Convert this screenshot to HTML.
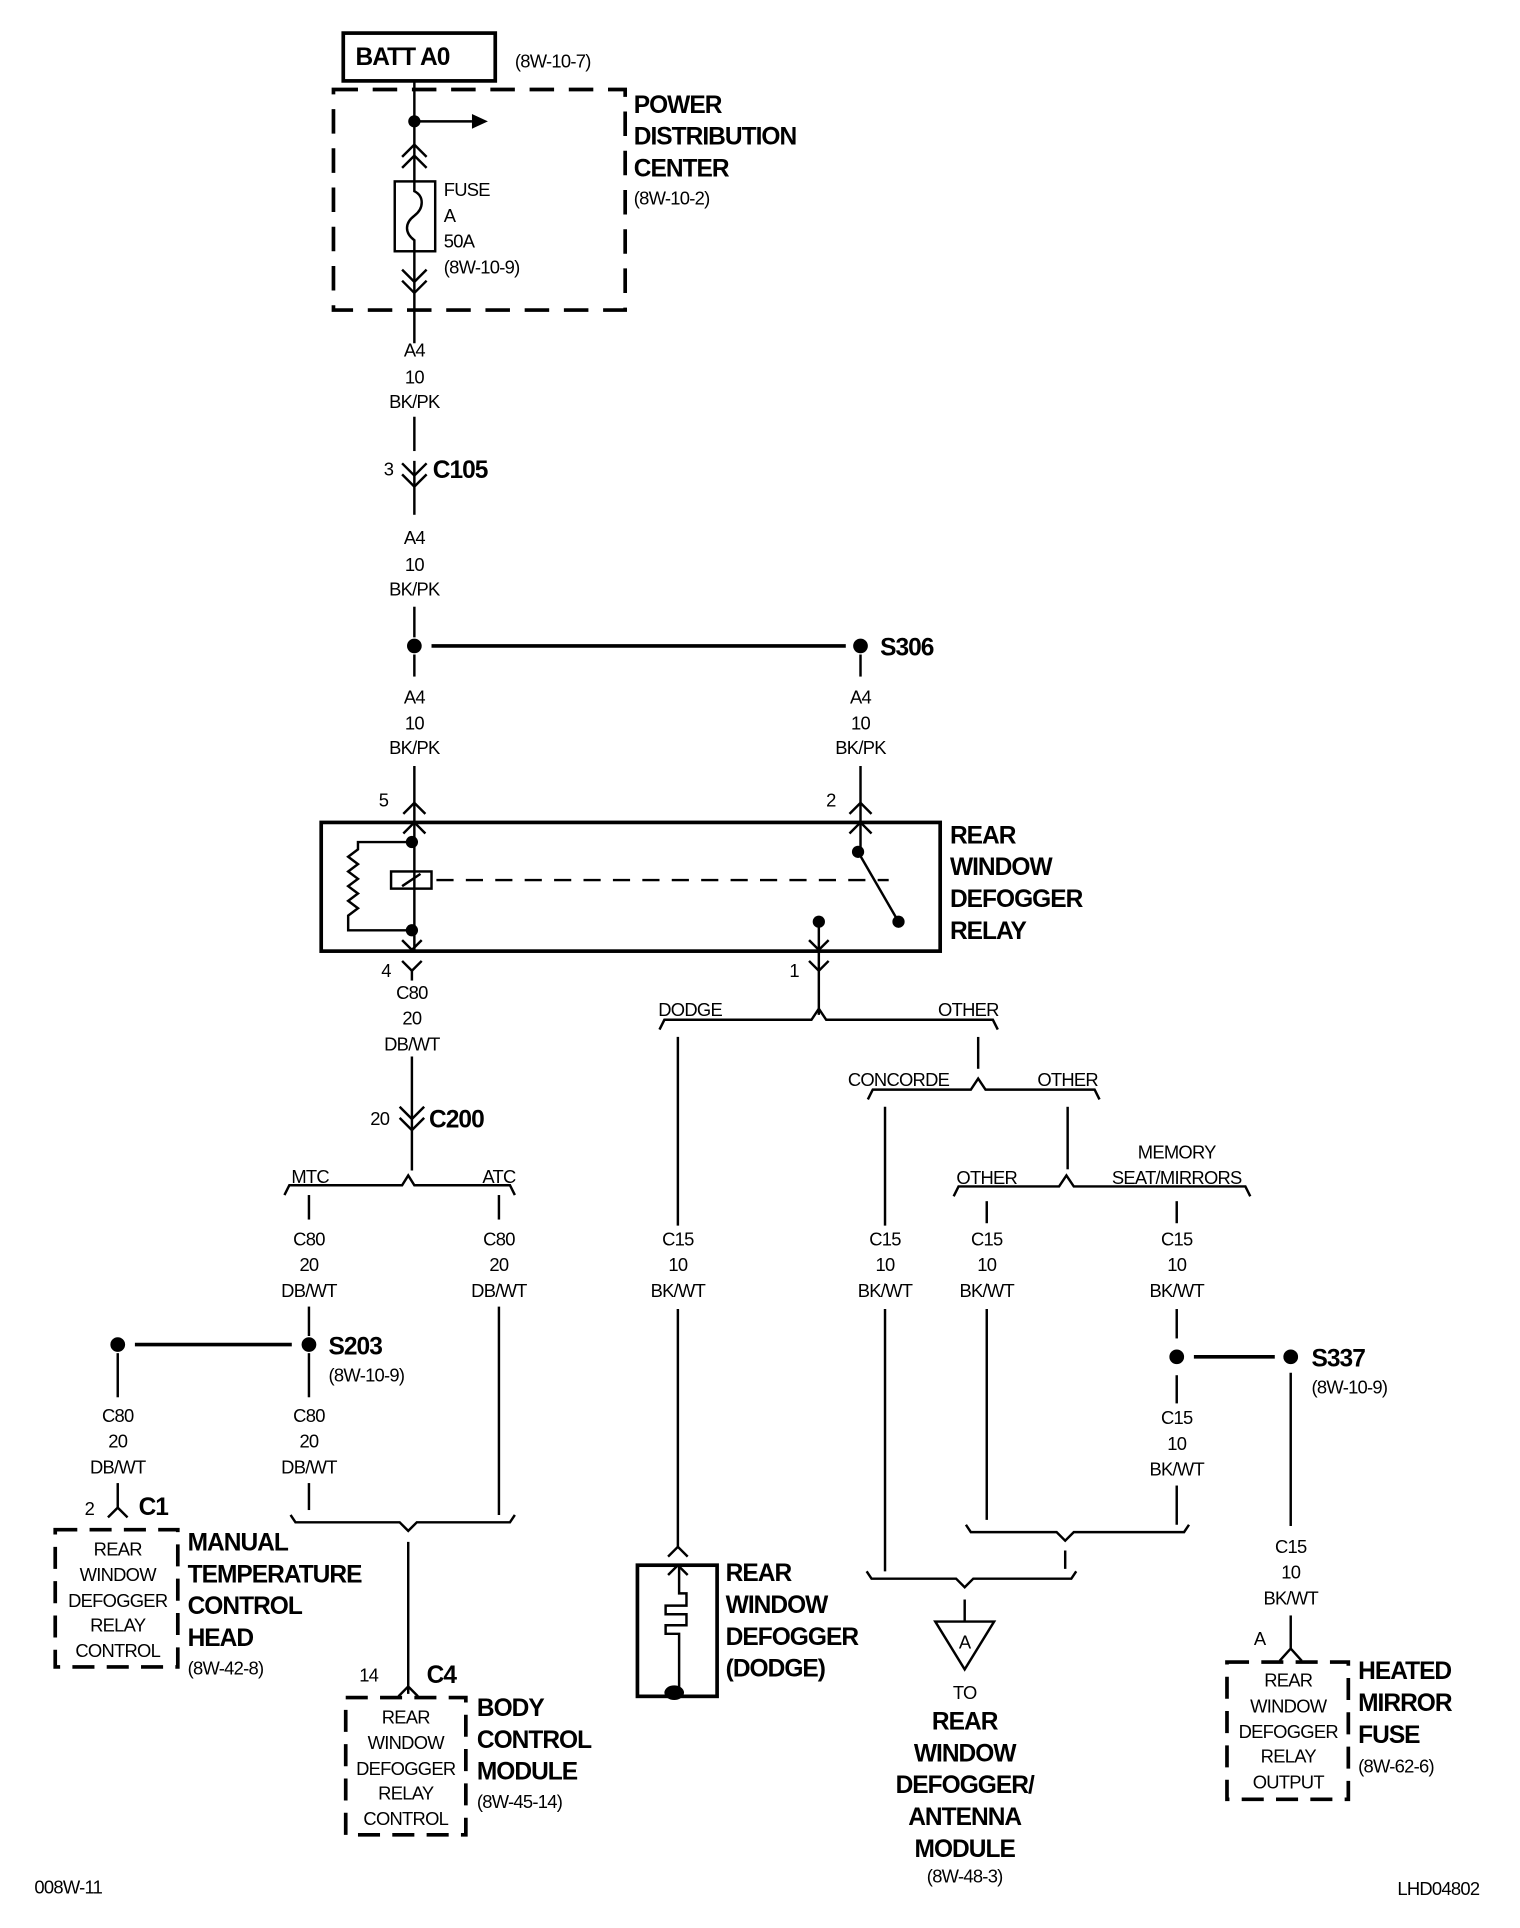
<!DOCTYPE html>
<html><head><meta charset="utf-8"><style>
html,body{margin:0;padding:0;background:#fff;}
svg{display:block}
text{font-family:"Liberation Sans",sans-serif;fill:#000;}
.r{font-size:15px;letter-spacing:-0.6px}
.b{font-size:20px;font-weight:bold;letter-spacing:-0.8px}
.m{text-anchor:middle}
</style></head><body>
<svg width="1520" height="1928" viewBox="0 0 1240 1573" xmlns="http://www.w3.org/2000/svg">
<g fill="none" stroke="#000" stroke-width="2">
<!-- BATT -->
<rect x="280" y="27" width="124" height="39" stroke-width="3"/>
<rect x="272" y="73" width="238" height="180" stroke-width="3" stroke-dasharray="20,12"/>
<line x1="338" y1="66" x2="338" y2="148"/>
<line x1="338" y1="99" x2="385" y2="99"/>
<line x1="338" y1="205" x2="338" y2="280"/>
<polyline points="328,128 338,118 348,128"/><polyline points="328,137 338,127 348,137"/>
<polyline points="328,220 338,230 348,220"/><polyline points="328,229 338,239 348,229"/>
<rect x="322" y="148" width="33" height="57"/>
<path d="M338,148 v8 c8,4 8,14 0,20 c-8,6 -8,14 0,20 v9"/>
<!-- main wire -->
<line x1="338" y1="340" x2="338" y2="368"/>
<polyline points="328,378 338,388 348,378"/><polyline points="328,387 338,397 348,387"/>
<line x1="338" y1="376" x2="338" y2="420"/>
<line x1="338" y1="495" x2="338" y2="520"/>
<line x1="338" y1="534" x2="338" y2="552"/>
<line x1="352" y1="527" x2="690" y2="527" stroke-width="3"/>
<line x1="702" y1="534" x2="702" y2="552"/>
<line x1="338" y1="625" x2="338" y2="776"/>
<line x1="702" y1="625" x2="702" y2="695"/>
<polyline points="329,664 338,655 347,664"/><polyline points="693,664 702,655 711,664"/>
<polyline points="329,680 338,671 347,680"/><polyline points="693,680 702,671 711,680"/>
<!-- relay -->
<rect x="262" y="671" width="505" height="105" stroke-width="3"/>
<path d="M336,687 H292 V693 l-8,6 8,6 -8,6 8,6 -8,6 8,6 -8,6 8,6 -8,6 V759 H336"/>
<rect x="319" y="711" width="33" height="14"/>
<line x1="328" y1="723" x2="343" y2="713"/>
<line x1="356" y1="718" x2="725" y2="718" stroke-dasharray="14,10"/>
<line x1="700" y1="695" x2="733" y2="752"/>
<line x1="668" y1="752" x2="668" y2="828"/>
<polyline points="660,767 668,775 676,767"/>
<polyline points="328,767 336,775 344,767"/>
<polyline points="328,784 336,792 344,784"/><polyline points="660,784 668,792 676,784"/>
<line x1="336" y1="792" x2="336" y2="800"/>
<!-- pin4 wire -->
<line x1="336" y1="862" x2="336" y2="955"/>
<polyline points="326,903 336,913 346,903"/><polyline points="326,912 336,922 346,912"/>
<path d="M232,975 l4,-8 H328 l5,-8 5,8 H416 l4,8"/>
<line x1="252" y1="975" x2="252" y2="995"/><line x1="407" y1="975" x2="407" y2="995"/>
<line x1="252" y1="1066" x2="252" y2="1090"/>
<line x1="110" y1="1097" x2="238" y2="1097" stroke-width="3"/>
<line x1="252" y1="1104" x2="252" y2="1140"/>
<line x1="96" y1="1104" x2="96" y2="1140"/>
<line x1="407" y1="1066" x2="407" y2="1236"/>
<line x1="252" y1="1210" x2="252" y2="1232"/>
<line x1="96" y1="1210" x2="96" y2="1230"/>
<polyline points="88,1238 96,1230 104,1238"/>
<rect x="45" y="1248" width="100" height="112" stroke-width="3" stroke-dasharray="18,10"/>
<path d="M237,1236 l4,6 H326 l7,7 7,-7 H416 l4,-6"/>
<line x1="333" y1="1258" x2="333" y2="1382"/>
<polyline points="325,1384 333,1376 341,1384"/>
<rect x="282" y="1385" width="98" height="112" stroke-width="3" stroke-dasharray="18,10"/>
<!-- right branch -->
<path d="M538,840 l4,-8 H662 l6,-9 6,9 H810 l4,8"/>
<line x1="553" y1="846" x2="553" y2="1000"/>
<line x1="798" y1="846" x2="798" y2="872"/>
<path d="M708,897 l4,-8 H792 l6,-9 6,9 H893 l4,8"/>
<line x1="722" y1="903" x2="722" y2="1000"/>
<line x1="871" y1="903" x2="871" y2="954"/>
<path d="M778,976 l4,-8 H864 l6,-9 6,9 H1016 l4,8"/>
<line x1="805" y1="980" x2="805" y2="998"/><line x1="960" y1="980" x2="960" y2="998"/>
<line x1="553" y1="1068" x2="553" y2="1262"/>
<polyline points="545,1270 553,1262 561,1270"/>
<rect x="520" y="1277" width="65" height="107" stroke-width="3"/>
<polyline points="545,1285 553,1277 561,1285"/>
<path d="M554,1277 V1300 H560 V1310 H543 V1317 H560 V1326 H543 V1333 H554 V1384"/>
<line x1="722" y1="1068" x2="722" y2="1282"/>
<line x1="805" y1="1068" x2="805" y2="1240"/>
<line x1="960" y1="1068" x2="960" y2="1092"/>
<line x1="974" y1="1107" x2="1040" y2="1107" stroke-width="3"/>
<line x1="960" y1="1122" x2="960" y2="1145"/>
<line x1="960" y1="1212" x2="960" y2="1244"/>
<line x1="1053" y1="1120" x2="1053" y2="1245"/>
<path d="M788,1244 l4,6 H862 l7,7 7,-7 H966 l4,-6"/>
<line x1="869" y1="1265" x2="869" y2="1280"/>
<path d="M707,1282 l4,6 H780 l7,7 7,-7 H874 l4,-6"/>
<line x1="787" y1="1305" x2="787" y2="1323"/>
<polygon points="763,1323 811,1323 787,1362"/>
<line x1="1053" y1="1318" x2="1053" y2="1345"/>
<polyline points="1044,1355 1053,1345 1062,1355"/>
<rect x="1001" y="1356" width="99" height="112" stroke-width="3" stroke-dasharray="18,10"/>
</g>
<g fill="#000">
<polygon points="385,93 398,99 385,105"/>
<circle cx="338" cy="99" r="5"/>
<circle cx="338" cy="527" r="6"/><circle cx="702" cy="527" r="6"/>
<circle cx="336" cy="687" r="5"/><circle cx="336" cy="759" r="5"/>
<circle cx="700" cy="695" r="5"/><circle cx="733" cy="752" r="5"/><circle cx="668" cy="752" r="5"/>
<circle cx="96" cy="1097" r="6"/><circle cx="252" cy="1097" r="6"/>
<circle cx="960" cy="1107" r="6"/><circle cx="1053" cy="1107" r="6"/>
<ellipse cx="550" cy="1381" rx="8" ry="6"/>
</g>
<text x="290" y="53" class="b">BATT A0</text>
<text x="420" y="55" class="r">(8W-10-7)</text>
<text x="517" y="92" class="b">POWER</text><text x="517" y="118" class="b">DISTRIBUTION</text><text x="517" y="144" class="b">CENTER</text>
<text x="517" y="167" class="r">(8W-10-2)</text>
<text x="362" y="160" class="r">FUSE</text><text x="362" y="181" class="r">A</text><text x="362" y="202" class="r">50A</text><text x="362" y="223" class="r">(8W-10-9)</text>
<g class="r m">
<text x="338" y="291">A4</text><text x="338" y="313">10</text><text x="338" y="333">BK/PK</text>
<text x="338" y="444">A4</text><text x="338" y="466">10</text><text x="338" y="486">BK/PK</text>
<text x="338" y="574">A4</text><text x="338" y="595">10</text><text x="338" y="615">BK/PK</text>
<text x="702" y="574">A4</text><text x="702" y="595">10</text><text x="702" y="615">BK/PK</text>
<text x="336" y="815">C80</text><text x="336" y="836">20</text><text x="336" y="857">DB/WT</text>
<text x="252" y="1016">C80</text><text x="252" y="1037">20</text><text x="252" y="1058">DB/WT</text>
<text x="407" y="1016">C80</text><text x="407" y="1037">20</text><text x="407" y="1058">DB/WT</text>
<text x="96" y="1160">C80</text><text x="96" y="1181">20</text><text x="96" y="1202">DB/WT</text>
<text x="252" y="1160">C80</text><text x="252" y="1181">20</text><text x="252" y="1202">DB/WT</text>
<text x="553" y="1016">C15</text><text x="553" y="1037">10</text><text x="553" y="1058">BK/WT</text>
<text x="722" y="1016">C15</text><text x="722" y="1037">10</text><text x="722" y="1058">BK/WT</text>
<text x="805" y="1016">C15</text><text x="805" y="1037">10</text><text x="805" y="1058">BK/WT</text>
<text x="960" y="1016">C15</text><text x="960" y="1037">10</text><text x="960" y="1058">BK/WT</text>
<text x="960" y="1162">C15</text><text x="960" y="1183">10</text><text x="960" y="1204">BK/WT</text>
<text x="1053" y="1267">C15</text><text x="1053" y="1288">10</text><text x="1053" y="1309">BK/WT</text>
<text x="96" y="1269">REAR</text><text x="96" y="1290">WINDOW</text><text x="96" y="1311">DEFOGGER</text><text x="96" y="1331">RELAY</text><text x="96" y="1352">CONTROL</text>
<text x="331" y="1406">REAR</text><text x="331" y="1427">WINDOW</text><text x="331" y="1448">DEFOGGER</text><text x="331" y="1468">RELAY</text><text x="331" y="1489">CONTROL</text>
<text x="1051" y="1376">REAR</text><text x="1051" y="1397">WINDOW</text><text x="1051" y="1418">DEFOGGER</text><text x="1051" y="1438">RELAY</text><text x="1051" y="1459">OUTPUT</text>
<text x="253" y="965">MTC</text><text x="407" y="965">ATC</text>
<text x="563" y="829">DODGE</text><text x="790" y="829">OTHER</text>
<text x="733" y="886">CONCORDE</text><text x="871" y="886">OTHER</text>
<text x="805" y="966">OTHER</text><text x="960" y="945">MEMORY</text><text x="960" y="966">SEAT/MIRRORS</text>
<text x="787" y="1345">A</text><text x="787" y="1386">TO</text>
<text x="787" y="1536">(8W-48-3)</text>
</g>
<text x="313" y="388" class="r">3</text><text x="353" y="390" class="b">C105</text>
<text x="718" y="535" class="b">S306</text>
<text x="309" y="658" class="r">5</text><text x="674" y="658" class="r">2</text>
<text x="311" y="797" class="r">4</text><text x="644" y="797" class="r">1</text>
<text x="775" y="688" class="b">REAR</text><text x="775" y="714" class="b">WINDOW</text><text x="775" y="740" class="b">DEFOGGER</text><text x="775" y="766" class="b">RELAY</text>
<text x="302" y="918" class="r">20</text><text x="350" y="920" class="b">C200</text>
<text x="268" y="1105" class="b">S203</text><text x="268" y="1127" class="r">(8W-10-9)</text>
<text x="69" y="1236" class="r">2</text><text x="113" y="1236" class="b">C1</text>
<text x="153" y="1265" class="b">MANUAL</text><text x="153" y="1291" class="b">TEMPERATURE</text><text x="153" y="1317" class="b">CONTROL</text><text x="153" y="1343" class="b">HEAD</text>
<text x="153" y="1366" class="r">(8W-42-8)</text>
<text x="293" y="1372" class="r">14</text><text x="348" y="1373" class="b">C4</text>
<text x="389" y="1400" class="b">BODY</text><text x="389" y="1426" class="b">CONTROL</text><text x="389" y="1452" class="b">MODULE</text>
<text x="389" y="1475" class="r">(8W-45-14)</text>
<text x="592" y="1290" class="b">REAR</text><text x="592" y="1316" class="b">WINDOW</text><text x="592" y="1342" class="b">DEFOGGER</text><text x="592" y="1368" class="b">(DODGE)</text>
<g class="b m"><text x="787" y="1411">REAR</text><text x="787" y="1437">WINDOW</text><text x="787" y="1463">DEFOGGER/</text><text x="787" y="1489">ANTENNA</text><text x="787" y="1515">MODULE</text></g>
<text x="1070" y="1115" class="b">S337</text><text x="1070" y="1137" class="r">(8W-10-9)</text>
<text x="1023" y="1342" class="r">A</text>
<text x="1108" y="1370" class="b">HEATED</text><text x="1108" y="1396" class="b">MIRROR</text><text x="1108" y="1422" class="b">FUSE</text>
<text x="1108" y="1446" class="r">(8W-62-6)</text>
<text x="28" y="1545" class="r">008W-11</text><text x="1140" y="1546" class="r">LHD04802</text>
</svg>
</body></html>
